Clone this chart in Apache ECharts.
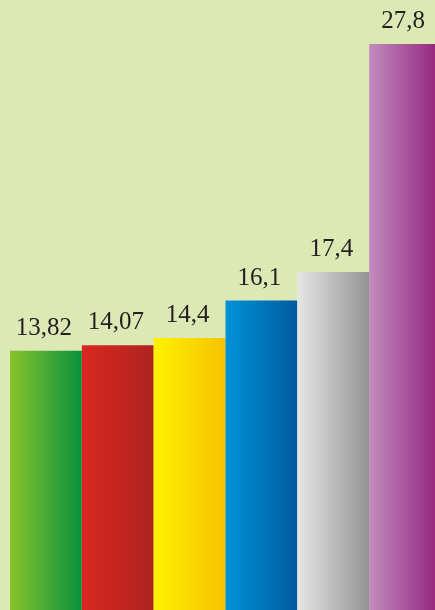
<!DOCTYPE html>
<html>
<head>
<meta charset="utf-8">
<script src="https://cdn.jsdelivr.net/npm/echarts@6/dist/echarts.min.js"></script>
<style>
html,body{margin:0;padding:0;background:#dce9b5;}
#chart{width:435px;height:610px;}
</style>
</head>
<body>
<div id="chart"></div>
<script>
var categories = ['A', 'B', 'C', 'D', 'E', 'F'];
var values = [13.82, 14.07, 14.4, 16.1, 17.4, 27.8];
var gradientStops = [
  ['#88c22a', '#09913f'],
  ['#da2820', '#ae231f'],
  ['#fff100', '#f6c300'],
  ['#0092d8', '#005b9f'],
  ['#e6e6e5', '#939393'],
  ['#c18cbe', '#93207a']
];

var chart = echarts.init(document.getElementById('chart'), null, {renderer: 'canvas'});
var seriesData = values.map(function (v, i) {
  return {
    value: v,
    itemStyle: {
      color: new echarts.graphic.LinearGradient(0, 0, 1, 0, [
        {offset: 0, color: gradientStops[i][0]},
        {offset: 1, color: gradientStops[i][1]}
      ])
    }
  };
});

chart.setOption({
  backgroundColor: '#dce9b5',
  animation: false,
  grid: {left: 10, right: -6, top: 0, bottom: 0, containLabel: false, outerBoundsMode: 'none'},
  xAxis: {
    type: 'category',
    data: categories,
    show: false,
    boundaryGap: true
  },
  yAxis: {
    type: 'value',
    min: 2,
    max: 29.8,
    show: false
  },
  series: [{
    type: 'bar',
    data: seriesData,
    barWidth: '100%',
    barCategoryGap: 0,
    clip: false,
    label: {
      show: true,
      position: 'top',
      distance: 10,
      offset: [-2, 0],
      fontFamily: 'Liberation Serif',
      fontSize: 25,
      color: '#231f20',
      formatter: function (p) { return String(p.value).replace('.', ','); }
    }
  }]
});
</script>
</body>
</html>
